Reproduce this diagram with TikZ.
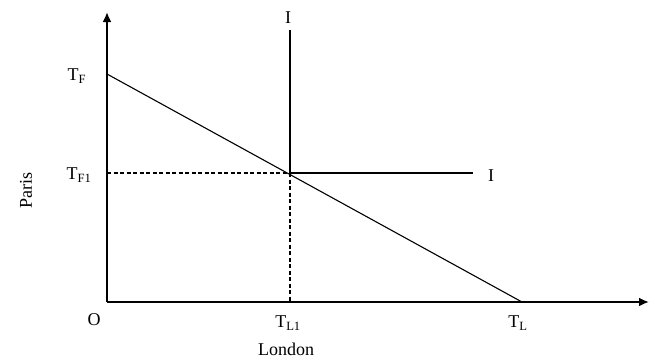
\documentclass[tikz,border=0pt]{standalone}
\usepackage{fontspec}
\setmainfont{Liberation Serif}
\usetikzlibrary{arrows.meta}
\begin{document}
\begin{tikzpicture}[
  x=1pt, y=-1pt,
  lbl/.style={font=\fontsize{18}{20}\selectfont, inner sep=0pt},
  axis/.style={-{Latex[length=10pt,width=9pt]}, line width=2.6pt},
  curve/.style={line width=1.1pt},
  guide/.style={dashed, line width=2pt, dash pattern=on 4pt off 2.5pt}
]
\useasboundingbox (0,0) rectangle (650,360);
% axes
\coordinate (o) at (107,302);
\coordinate (ytop) at (107,12);
\coordinate (xend) at (649,302);
\draw[axis] (o) -- (ytop);
\draw[axis] (o) -- (xend);
% key points
\coordinate (tf) at (107,74);
\coordinate (tl) at (522,302);
\coordinate (e) at (290,173);
\coordinate (ivtop) at (290,30);
\coordinate (ihend) at (473,173);
\coordinate (tf1) at (107,173);
\coordinate (tl1) at (290,302);
% transformation line
\draw[curve] (tf) -- (tl);
% I lines
\draw[curve] (e) -- (ivtop);
\draw[curve] (e) -- (ihend);
% dashed guides
\draw[guide] (tf1) -- (e);
\draw[guide] (e) -- (tl1);
% labels
\node[lbl] (lo) at (94,320) {O};
\node[lbl] (ltf) at (77,76) {T\textsubscript{F}};
\node[lbl] (ltf1) at (79,175) {T\textsubscript{F1}};
\node[lbl] (ltl1) at (288,323) {T\textsubscript{L1}};
\node[lbl] (ltl) at (518,323) {T\textsubscript{L}};
\node[lbl] (lond) at (286,349) {London};
\node[lbl] (liv) at (288,18) {I};
\node[lbl] (lih) at (491,176) {I};
\node[lbl, rotate=90] (par) at (26,190) {Paris};
\end{tikzpicture}
\end{document}
